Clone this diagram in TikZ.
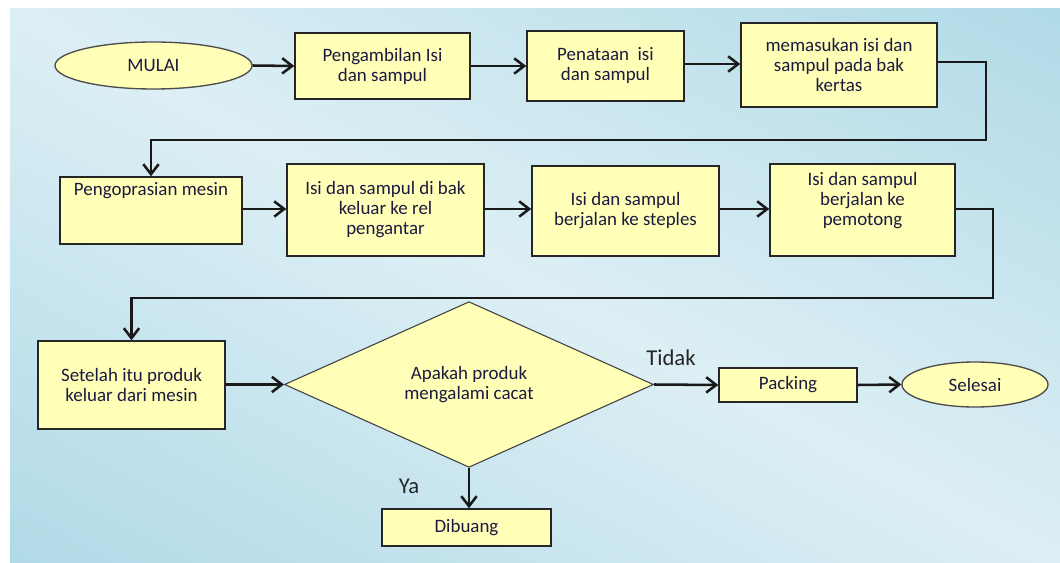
\documentclass[tikz,border=0pt]{standalone}
\usepackage{fontspec}
\setmainfont{Carlito}
\usetikzlibrary{shapes.geometric,arrows.meta}
\definecolor{bgdark}{HTML}{8ECADB}
\definecolor{bglight}{HTML}{DDEFF5}
\definecolor{boxfill}{HTML}{FFFFB8}
\definecolor{ink}{HTML}{1C1A40}
\begin{document}
\begin{tikzpicture}[x=0.75pt,y=-0.75pt,
  base/.style={fill=boxfill, text=ink, font=\fontsize{14.2}{15}\selectfont, align=center, inner sep=0pt},
  stepbox/.style={base, rectangle, draw=black!85, line width=1.1pt},
  termbox/.style={base, ellipse, draw=black!70, line width=1pt},
  decbox/.style={base, diamond, draw=black!75, line width=0.8pt},
  plain/.style={text=ink, font=\fontsize{14.2}{15}\selectfont, align=center, inner sep=0pt},
  tag/.style={text=black!85, font=\fontsize{17}{18}\selectfont, inner sep=0pt},
  arr/.style={line width=1.9pt, draw=black!90, -{Straight Barb[length=7.5pt,width=11.5pt]}}]
\useasboundingbox (0,0) rectangle (1060,563);
\fill[white] (0,0) rectangle (1060,563);

% background panel with diagonal gradient
\begin{scope}
  \clip (10,9) rectangle (1060,563);
  \shade[top color=bgdark, bottom color=bgdark, middle color=bglight,
         transform canvas={shift={(535,286)}, rotate=-27.8}]
    (-700,-860) rectangle (700,860);
\end{scope}

% first row
\node[termbox, minimum width=147.75pt, minimum height=35.25pt] (start) at (153.5,65.5) {MULAI};
\node[stepbox, minimum width=131.25pt, minimum height=49.5pt] (b1) at (382.5,66) {Pengambilan Isi\\dan sampul};
\node[stepbox, minimum width=117.75pt, minimum height=52.5pt] (b2) at (605.5,66) {Penataan\ \ isi\\dan sampul};
\node[stepbox, minimum width=147pt, minimum height=63pt] (b3) at (839,65) {memasukan isi dan\\sampul pada bak\\kertas};

% second row
\node[stepbox, minimum width=136.5pt, minimum height=50.25pt] (b4) at (151,210.5) {};
\node[plain] (b4t) at (151,191) {Pengoprasian mesin};
\node[stepbox, minimum width=147.75pt, minimum height=69pt] (b5) at (385.5,210) {Isi dan sampul di bak\\keluar ke rel\\pengantar};
\node[stepbox, minimum width=140.25pt, minimum height=67.5pt] (b6) at (625.5,211) {Isi dan sampul\\berjalan ke steples};
\node[stepbox, minimum width=138.75pt, minimum height=69pt] (b7) at (862.5,210) {};
\node[plain] (b7t) at (862.5,201) {Isi dan sampul\\berjalan ke\\pemotong};

% third row
\node[stepbox, minimum width=140.25pt, minimum height=66pt] (b8) at (131.5,385) {Setelah itu produk\\keluar dari mesin};
\node[decbox, minimum width=276.75pt, minimum height=123.75pt] (q) at (469,384.5) {Apakah produk\\mengalami cacat};
\node[stepbox, minimum width=103.5pt, minimum height=25.5pt] (pack) at (788,385) {Packing};
\node[termbox, minimum width=109.5pt, minimum height=33.75pt] (stop) at (975,384.5) {Selesai};
\node[stepbox, minimum width=126.75pt, minimum height=27.75pt] (trash) at (466.5,527.5) {Dibuang};

% branch labels
\node[tag] (tno) at (671,358) {Tidak};
\node[tag] (tyes) at (409,486) {Ya};

% turning points of the row changes
\coordinate (r1) at (986,140);
\coordinate (r2) at (993,298);

% connectors
\draw[arr] (start.east) -- (b1.west);
\draw[arr] (b1.east) -- (b2.west);
\draw[arr] (b2.east |- 0,64) -- (b3.west |- 0,64);
\draw[arr] (b3.east |- 0,62) -| (r1) -| (b4.north);
\draw[arr] (b4.east |- 0,209) -- (b5.west |- 0,209);
\draw[arr] (b5.east |- 0,209) -- (b6.west |- 0,209);
\draw[arr] (b6.east |- 0,209) -- (b7.west |- 0,209);
\draw[arr] (b7.east |- 0,209) -| (r2) -| (b8.north);
\draw[arr] (b8.east |- q.west) -- (q.west);
\draw[arr] (q.east) -- (pack.west);
\draw[arr] (pack.east) -- (stop.west);
\draw[arr] (q.south) -- (q.south |- trash.north);
\end{tikzpicture}
\end{document}
